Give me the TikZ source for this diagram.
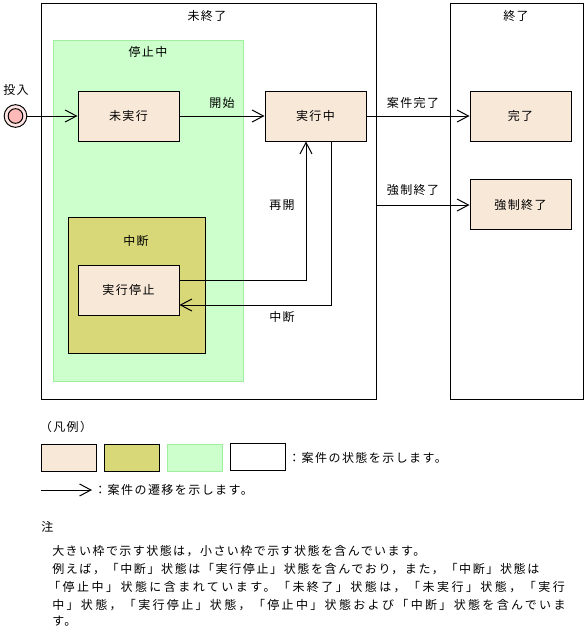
\documentclass[tikz,border=0pt]{standalone}
\usepackage{fontspec}
\setmainfont{Noto Sans CJK JP}[LetterSpace=12]
\usetikzlibrary{arrows.meta}
\definecolor{peach}{RGB}{248,232,216}
\definecolor{olive}{RGB}{216,216,120}
\definecolor{lgreen}{RGB}{204,255,204}
\definecolor{lgreenb}{RGB}{160,238,160}
\definecolor{pinkc}{RGB}{255,185,185}
\definecolor{pinkl}{RGB}{255,228,228}
\tikzset{
  x=0.75pt, y=-0.75pt,
  every node/.style={font=\fontsize{9}{11}\selectfont, inner sep=0pt},
  >={Straight Barb[length=8.5pt,width=9pt,line width=0.75pt]},
  statebox/.style={draw, line width=0.75pt, fill=peach, minimum width=75.75pt, minimum height=37.5pt},
  container/.style={draw, line width=0.75pt, fill=white},
  conn/.style={->, line width=0.75pt},
  noteline/.style={anchor=west, font=\fontsize{9}{11}\selectfont\addfontfeatures{LetterSpace=#1}},
}
\begin{document}
\begin{tikzpicture}
\useasboundingbox (0,0) rectangle (587,632);
% containers
\node[container, minimum width=251.25pt, minimum height=297pt] (mishu) at (208.5,201) {};
\node (mishulbl) at (207,16) {未終了};
\node[container, minimum width=99.75pt, minimum height=297pt] (shu) at (516.5,201) {};
\node (shulbl) at (516,16) {終了};
\node[draw=lgreenb, line width=0.75pt, fill=lgreen, minimum width=142.5pt, minimum height=255.75pt] (teishichu) at (148,210.5) {};
\node (teishichulbl) at (148,52) {停止中};
\node[draw, line width=0.75pt, fill=olive, minimum width=102.75pt, minimum height=102pt] (chudan) at (136.5,285) {};
\node (chudanlbl) at (136,241) {中断};
% states
\node[statebox] (mijikko) at (128.5,116) {未実行};
\node[statebox] (jikko) at (315.5,116) {実行中};
\node[statebox] (kanryo) at (520.5,116) {完了};
\node[statebox] (kyosei) at (520.5,204.5) {強制終了};
\node[statebox] (teishi) at (128.5,290) {実行停止};
% start
\node[circle, draw, line width=0.75pt, fill=pinkl, minimum size=17pt] (start) at (15.5,116) {};
\node[circle, draw, line width=0.75pt, fill=pinkc, minimum size=11pt] (startin) at (15.5,116) {};
\node (tonyu) at (16,90) {投入};
% connectors
\draw[conn] (start) -- (mijikko);
\draw[conn] (mijikko) -- (jikko);
\node (kaishi) at (222,103) {開始};
\draw[conn] (jikko) -- (kanryo);
\node (kanryolbl) at (413,103) {案件完了};
\coordinate (fork) at (376,205);
\draw[conn] (fork) -- (fork -| kyosei.west);
\node (kyoseilbl) at (413,190) {強制終了};
\draw[conn] ([yshift=7.5pt]teishi.east) -| ([xshift=-7.125pt]jikko.south);
\node (saikai) at (282,205) {再開};
\draw[conn] ([xshift=12pt]jikko.south) |- ([yshift=-11.25pt]teishi.east);
\node (chudanarr) at (282,317) {中断};
% legend
\node (hanrei) at (66,427) {（凡例）};
\node[draw, line width=0.75pt, fill=peach, minimum width=41.25pt, minimum height=20.25pt] (lg1) at (68.5,457.5) {};
\node[draw, line width=0.75pt, fill=olive, minimum width=41.25pt, minimum height=20.25pt] (lg2) at (131.5,457.5) {};
\node[draw=lgreenb, line width=0.75pt, fill=lgreen, minimum width=41.25pt, minimum height=20.25pt] (lg3) at (194.5,457.5) {};
\node[draw, line width=0.75pt, fill=white, minimum width=41.25pt, minimum height=20.25pt] (lg4) at (257.5,456.5) {};
\node[anchor=west] (lgtext1) at (288,458) {：案件の状態を示します。};
\coordinate (la) at (41,490);
\coordinate (lb) at (92,490);
\draw[conn] (la) -- (lb);
\node[anchor=west] (lgtext2) at (94,490) {：案件の遷移を示します。};
% note
\node[anchor=west] (chu) at (41,527) {注};
\node[anchor=west] (n1) at (52,551) {大きい枠で示す状態は，小さい枠で示す状態を含んでいます。};
\node[noteline=13.5] (n2) at (52,569) {例えば，「中断」状態は「実行停止」状態を含んでおり，また，「中断」状態は};
\node[noteline=20.5] (n3) at (48,587) {「停止中」状態に含まれています。「未終了」状態は，「未実行」状態，「実行};
\node[noteline=19.5] (n4) at (52,605) {中」状態，「実行停止」状態，「停止中」状態および「中断」状態を含んでいま};
\node[anchor=west] (n5) at (52,621) {す。};
\end{tikzpicture}
\end{document}
